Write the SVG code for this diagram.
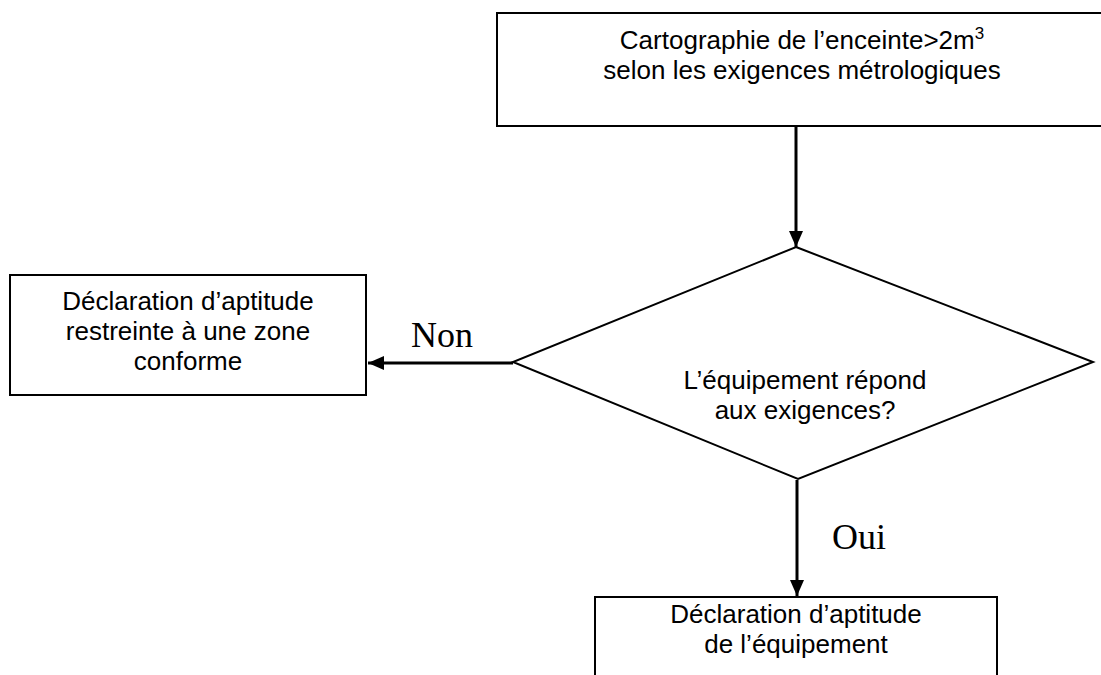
<svg xmlns="http://www.w3.org/2000/svg" width="1101" height="675" viewBox="0 0 1101 675">
<style>
.box{fill:#fff;stroke:#000;stroke-width:2}
.dia{fill:#fff;stroke:#000;stroke-width:2}
.t{font-family:"Liberation Sans",Arial,sans-serif;font-size:26px;fill:#000;text-anchor:middle}
.lbl{font-family:"Liberation Serif","Times New Roman",serif;font-size:36px;fill:#000}
.edge{stroke:#000;stroke-width:3;fill:none}
</style>
<defs>
<marker id="ah" markerUnits="userSpaceOnUse" markerWidth="16" markerHeight="16" viewBox="0 0 16 16" refX="16" refY="8" orient="auto">
<path d="M0,1 L16,8 L0,15 Z" fill="#000"/>
</marker>
</defs>
<rect width="1101" height="675" fill="#fff"/>
<g id="connectors">
<line class="edge" x1="796" y1="127" x2="796" y2="247" marker-end="url(#ah)"/>
<line class="edge" x1="513" y1="363" x2="368" y2="363" marker-end="url(#ah)"/>
<line class="edge" x1="797" y1="480" x2="797" y2="596" marker-end="url(#ah)"/>
<text class="lbl" x="411" y="347">Non</text>
<text class="lbl" x="832" y="549">Oui</text>
</g>
<g id="n1">
<rect class="box" x="497" y="13" width="612" height="113"/>
<text class="t" x="802" y="49">Cartographie de l’enceinte&gt;2m<tspan font-size="17" dy="-10">3</tspan></text>
<text class="t" x="802" y="79">selon les exigences métrologiques</text>
</g>
<g id="n2">
<polygon class="dia" points="796,247 1093,362 798,479 513,362"/>
<text class="t" x="805" y="389">L’équipement répond</text>
<text class="t" x="805" y="419">aux exigences?</text>
</g>
<g id="n3">
<rect class="box" x="10" y="275" width="356" height="120"/>
<text class="t" x="188" y="310">Déclaration d’aptitude</text>
<text class="t" x="188" y="340">restreinte à une zone</text>
<text class="t" x="188" y="370">conforme</text>
</g>
<g id="n4">
<rect class="box" x="595" y="597" width="402" height="90"/>
<text class="t" x="796" y="623">Déclaration d’aptitude</text>
<text class="t" x="796" y="653">de l’équipement</text>
</g>
</svg>
